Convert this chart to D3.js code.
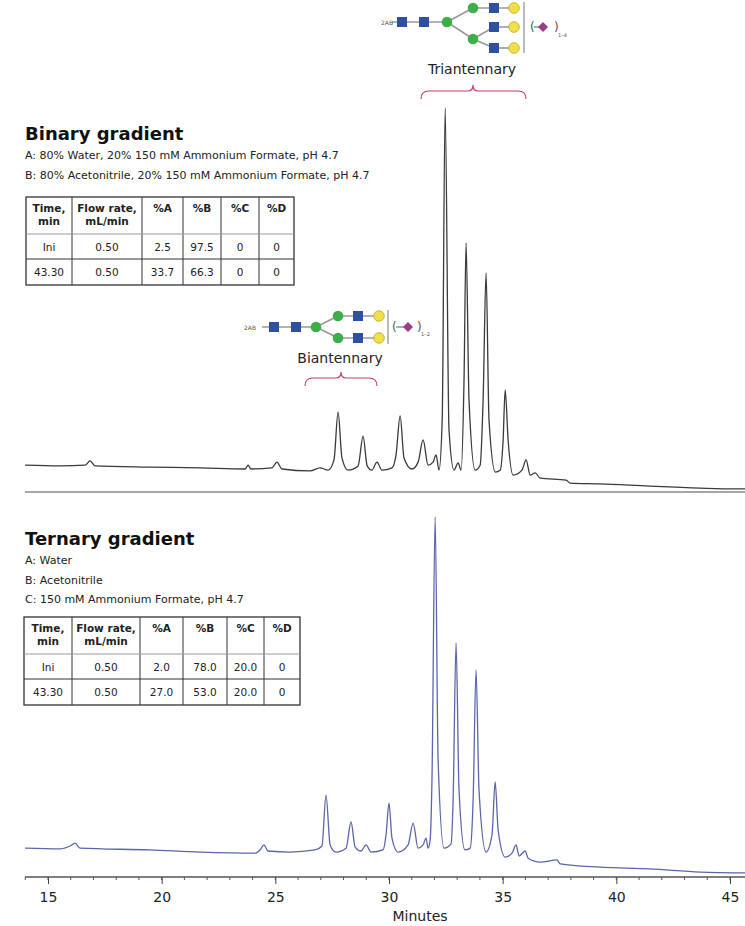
<!DOCTYPE html>
<html><head><meta charset="utf-8">
<script src="https://cdn.jsdelivr.net/npm/d3@7"></script>
<style>body{margin:0;background:#fff}svg{display:block;font-family:Verdana,"DejaVu Sans",sans-serif}</style>
</head><body><svg id="c" width="745" height="926"></svg>
<script>
// ---- data ----
const binaryTime = [13.99,15.53,16.63,16.85,17.07,19.49,21.69,23.67,23.80,23.93,24.85,25.07,25.29,26.53,26.97,27.32,27.58,27.76,27.93,28.20,28.64,28.86,29.04,29.25,29.47,29.69,30.13,30.31,30.49,30.66,31.01,31.28,31.50,31.72,31.94,32.07,32.20,32.34,32.47,32.64,32.86,33.04,33.17,33.30,33.39,33.52,33.79,34.01,34.14,34.27,34.40,34.68,34.89,35.02,35.11,35.24,35.46,35.85,36.03,36.21,36.43,36.65,37.79,37.97,39.28,41.48,43.68,45.22,45.68];
const binarySignal = [6.5,6.3,6.5,7.6,6.3,6.0,5.8,5.5,6.5,5.5,5.8,7.3,5.5,5.0,5.8,5.2,7.9,20.4,8.4,5.2,6.3,14.1,6.3,5.2,7.3,5.2,5.8,9.2,19.4,8.4,5.5,7.3,13.1,6.5,7.3,9.2,5.2,18.3,100,15.7,5.2,7.1,5.2,28.8,64.7,23.6,5.2,6.5,23.6,56.8,18.3,4.7,5.2,13.1,26.2,13.1,3.9,5.2,7.9,3.9,4.5,3.1,2.6,1.8,1.6,1.0,0.5,0.3,0.3];
const ternaryTime = [13.99,15.53,15.97,16.19,16.41,19.49,21.69,24.11,24.33,24.50,24.68,25.65,26.75,27.05,27.23,27.41,27.67,28.11,28.33,28.51,28.77,28.99,29.21,29.74,29.87,30.00,30.13,30.40,30.84,31.06,31.28,31.50,31.63,31.72,31.81,31.89,32.03,32.16,32.42,32.73,32.82,32.95,33.08,33.34,33.57,33.70,33.83,33.96,34.27,34.53,34.67,34.80,35.11,35.41,35.59,35.72,35.99,36.12,36.65,37.39,37.53,39.28,41.48,43.68,45.22,45.68];
const ternarySignal = [7.5,7.3,8.1,8.9,7.5,7.0,6.4,6.1,7.0,8.4,6.7,6.4,7.0,8.1,22.3,8.4,6.4,7.5,14.8,7.8,6.7,8.4,6.4,7.0,11.2,20.1,10.3,6.4,8.4,14.5,7.5,8.4,10.3,7.5,9.8,26.5,100,32.1,7.5,8.7,20.9,64.8,23.7,7.0,7.5,20.9,57.3,23.7,6.4,11.2,26.0,12.6,5.0,6.1,8.4,5.3,6.7,4.7,3.6,4.2,3.1,2.2,1.7,0.8,0.6,0.6];
const xTicks = [15,20,25,30,35,40,45];
const tableHeader = ["Time,\nmin","Flow rate,\nmL/min","%A","%B","%C","%D"];
const binaryRows = [["Ini","0.50","2.5","97.5","0","0"],["43.30","0.50","33.7","66.3","0","0"]];
const ternaryRows = [["Ini","0.50","2.0","78.0","20.0","0"],["43.30","0.50","27.0","53.0","20.0","0"]];
const binaryLines = ["A: 80% Water, 20% 150 mM Ammonium Formate, pH 4.7","B: 80% Acetonitrile, 20% 150 mM Ammonium Formate, pH 4.7"];
const ternaryLines = ["A: Water","B: Acetonitrile","C: 150 mM Ammonium Formate, pH 4.7"];

const svg = d3.select("#c");
const x = d3.scaleLinear().domain([15,45]).range([48,730]);
const yTop = d3.scaleLinear().domain([0,100]).range([490,108]);
const yBot = d3.scaleLinear().domain([0,100]).range([875,517]);

function trace(t,s,y,color){
  svg.append("path").datum(d3.zip(t,s)).attr("fill","none").attr("stroke",color)
    .attr("stroke-width",1.3).attr("stroke-linejoin","round")
    .attr("d",d3.line().x(d=>x(d[0])).y(d=>y(d[1])).curve(d3.curveMonotoneX));
}
trace(binaryTime,binarySignal,yTop,"#3a3a3a");
trace(ternaryTime,ternarySignal,yBot,"#5b66a8");

// separator of top panel
svg.append("line").attr("x1",25).attr("x2",745).attr("y1",492).attr("y2",492).attr("stroke","#888").attr("stroke-width",1.5);

// bottom axis
const ax = svg.append("g").attr("transform","translate(0,877)")
  .call(d3.axisBottom(x).tickValues(xTicks).tickSize(7).tickFormat(d3.format("d")));
ax.select(".domain").remove();
ax.selectAll("text").attr("font-size",14).attr("fill","#222").attr("dy","1.1em").attr("font-family","Verdana,'DejaVu Sans',sans-serif");
ax.selectAll("line").attr("stroke","#444");
svg.append("line").attr("x1",25).attr("x2",745).attr("y1",877).attr("y2",877).attr("stroke","#555").attr("stroke-width",1.5);
svg.append("g").attr("transform","translate(0,877)").selectAll("line").data(d3.range(14,46)).join("line")
  .attr("x1",d=>x(d)).attr("x2",d=>x(d)).attr("y1",0).attr("y2",3).attr("stroke","#555");
svg.append("text").attr("x",420).attr("y",921).attr("text-anchor","middle").attr("font-size",14).attr("fill","#222").text("Minutes");

// text blocks and tables
function block(title,lines,rows,y0,cols,tableY){
  svg.append("text").attr("x",25).attr("y",y0).attr("font-size",18).attr("font-weight","bold").attr("fill","#111").text(title);
  lines.forEach((l,i)=>svg.append("text").attr("x",25).attr("y",y0+19+i*19.5).attr("font-size",11).attr("fill","#222").text(l));
  const rowsY=[tableY,tableY+37,tableY+62,tableY+88];
  const g=svg.append("g").attr("stroke","#333").attr("stroke-width",1);
  g.append("rect").attr("x",cols[0]).attr("y",rowsY[0]).attr("width",cols[6]-cols[0]).attr("height",rowsY[3]-rowsY[0]).attr("fill","none").attr("stroke-width",1.3);
  cols.slice(1,6).forEach(c=>g.append("line").attr("x1",c).attr("x2",c).attr("y1",rowsY[0]).attr("y2",rowsY[3]));
  [1,2].forEach(i=>g.append("line").attr("x1",cols[0]).attr("x2",cols[6]).attr("y1",rowsY[i]).attr("y2",rowsY[i]).attr("stroke",i==1?"#999":"#333"));
  tableHeader.forEach((h,j)=>{
    const cx=(cols[j]+cols[j+1])/2;
    h.split("\n").forEach((p,k)=>svg.append("text").attr("x",cx).attr("y",rowsY[0]+15+k*13).attr("text-anchor","middle").attr("font-size",10.5).attr("font-weight","bold").attr("fill","#222").text(p));
  });
  rows.forEach((r,i)=>r.forEach((v,j)=>svg.append("text").attr("x",(cols[j]+cols[j+1])/2).attr("y",rowsY[i+1]+17).attr("text-anchor","middle").attr("font-size",10.5).attr("fill","#222").text(v)));
}
block("Binary gradient",binaryLines,binaryRows,140,[26,72,142,183,221,259,294],197);
block("Ternary gradient",ternaryLines,ternaryRows,545,[24,72,140,183,227,264,300],617);

// glycans
const BLUE="#2f4f9f",GREEN="#3cae4a",YELLOW="#f2e04a",PINK="#c73c73";
function glycan(x0,yc,branches,gx){
  const g=svg.append("g");
  const ln=(a,b,c,d)=>g.append("line").attr("x1",a).attr("y1",b).attr("x2",c).attr("y2",d).attr("stroke","#999").attr("stroke-width",1.5);
  ln(x0+12,yc,gx,yc);
  branches.forEach(b=>{ln(b[0],b[1],b[2],b[3]);});
  return g;
}
function sq(cx,cy){svg.append("rect").attr("x",cx-5).attr("y",cy-5).attr("width",10).attr("height",10).attr("fill",BLUE);}
function ci(cx,cy,c){svg.append("circle").attr("cx",cx).attr("cy",cy).attr("r",5.3).attr("fill",c).attr("stroke",c==YELLOW?"#b8a820":"none").attr("stroke-width",0.8);}
function lnk(a,b,c,d){svg.append("line").attr("x1",a).attr("y1",b).attr("x2",c).attr("y2",d).attr("stroke","#999").attr("stroke-width",1.6);}
function small(t,xx,yy,s){svg.append("text").attr("x",xx).attr("y",yy).attr("font-size",s).attr("fill","#555").text(t);}
function brace(x1,x2,xm,y){
  svg.append("path").attr("fill","none").attr("stroke",PINK).attr("stroke-width",1.2)
   .attr("d",`M${x1},${y+11} Q${x1},${y+3} ${x1+8},${y+3} L${xm-5},${y+3} Q${xm},${y+3} ${xm},${y-3} Q${xm},${y+3} ${xm+5},${y+3} L${x2-8},${y+3} Q${x2},${y+3} ${x2},${y+11}`);
}
function antenna(y,gx){ lnk(gx,y,514,y); ci(gx,y,GREEN); sq(494,y); ci(514,y,YELLOW); }
// triantennary
lnk(392,22,447,22); lnk(447,22,473,8); lnk(447,22,473,39); lnk(473,39,494,27); lnk(473,39,494,48);
lnk(473,8,514,8); lnk(494,27,514,27); lnk(494,48,514,48);
small("2AB",381,25,6);
sq(402,22); sq(424,22); ci(447,22,GREEN); ci(473,8,GREEN); ci(473,39,GREEN);
[8,27,48].forEach(yy=>{sq(494,yy); ci(514,yy,YELLOW);});
svg.append("line").attr("x1",524).attr("x2",524).attr("y1",2).attr("y2",53).attr("stroke","#bbb").attr("stroke-width",2);
small("(",530,31,12); lnk(534,27,541,27);
svg.append("path").attr("d","M543,22 L548,27 L543,32 L538,27Z").attr("fill","#9c3b86");
small(")",554,31,12); small("1–4",558,37,5);
svg.append("text").attr("x",472).attr("y",74).attr("text-anchor","middle").attr("font-size",14).attr("fill","#222").attr("font-family","'DejaVu Sans',sans-serif").text("Triantennary");
brace(421,526,473,88);
// biantennary
lnk(262,327,316,327); lnk(316,327,338,316); lnk(316,327,338,338); lnk(338,316,379,316); lnk(338,338,379,338);
small("2AB",244,330,6);
sq(274,327); sq(296,327); ci(316,327,GREEN); ci(338,316,GREEN); ci(338,338,GREEN);
[316,338].forEach(yy=>{sq(358,yy); ci(379,yy,YELLOW);});
svg.append("line").attr("x1",388).attr("x2",388).attr("y1",310).attr("y2",344).attr("stroke","#bbb").attr("stroke-width",2);
small("(",392,331,12); lnk(396,327,404,327);
svg.append("path").attr("d","M408,322 L413,327 L408,332 L403,327Z").attr("fill","#9c3b86");
small(")",417,331,12); small("1–2",421,336,5);
svg.append("text").attr("x",340).attr("y",363).attr("text-anchor","middle").attr("font-size",14).attr("fill","#222").attr("font-family","'DejaVu Sans',sans-serif").text("Biantennary");
brace(305,377,341,375);
</script></body></html>
